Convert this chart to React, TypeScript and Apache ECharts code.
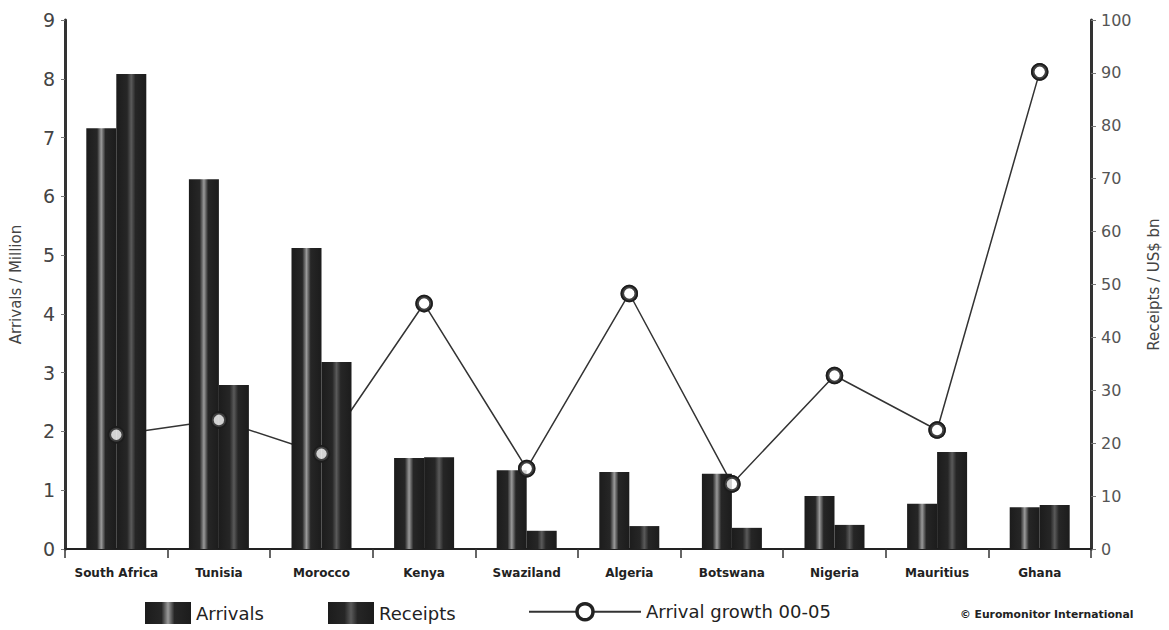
import React, { useEffect, useRef } from "react";
import * as echarts from "echarts";

const categories = ["South Africa", "Tunisia", "Morocco", "Kenya", "Swaziland", "Algeria", "Botswana", "Nigeria", "Mauritius", "Ghana"];
const arrivals = [7.16, 6.29, 5.12, 1.55, 1.34, 1.31, 1.28, 0.9, 0.77, 0.71];
const receipts = [8.08, 2.79, 3.18, 1.56, 0.31, 0.39, 0.36, 0.41, 1.65, 0.75];
const growth = [21.6, 24.4, 18, 46.4, 15.2, 48.3, 12.3, 32.8, 22.5, 90.2];

const FONT = "'DejaVu Sans', Verdana, sans-serif";

const barGrad = (mid: string) =>
  new echarts.graphic.LinearGradient(0, 0, 1, 0, [
    { offset: 0, color: "#1c1c1c" },
    { offset: 0.36, color: "#262626" },
    { offset: 0.5, color: mid },
    { offset: 0.64, color: "#262626" },
    { offset: 1, color: "#1c1c1c" },
  ]);

export default function App() {
  const ref = useRef<HTMLDivElement>(null);
  useEffect(() => {
    if (!ref.current) return;
    const chart = echarts.init(ref.current, null, { renderer: "svg" });
    chart.setOption({
      animation: false,
      backgroundColor: "#ffffff",
      textStyle: { fontFamily: FONT },
      grid: { left: 63, right: 71, top: 20, bottom: 81 },
      legend: [
        {
          data: [{ name: "Arrivals", icon: "rect" }],
          left: 140,
          top: 597,
          itemWidth: 46,
          itemHeight: 22,
          textStyle: { fontSize: 18, color: "#222", fontFamily: FONT },
        },
        {
          data: [{ name: "Receipts", icon: "rect" }],
          left: 323,
          top: 597,
          itemWidth: 46,
          itemHeight: 22,
          textStyle: { fontSize: 18, color: "#222", fontFamily: FONT },
        },
        {
          data: ["Arrival growth 00-05"],
          left: 523,
          top: 597,
          itemWidth: 112,
          itemHeight: 20,
          itemGap: 6,
          itemStyle: { color: "#ffffff", borderColor: "#222", borderWidth: 3.5 },
          textStyle: { fontSize: 18, color: "#222", fontFamily: FONT },
        },
      ],
      graphic: [
        {
          type: "text",
          left: 960,
          top: 609,
          style: {
            text: "© Euromonitor International",
            fontSize: 10.8,
            fontWeight: "bold",
            fill: "#222",
            fontFamily: FONT,
          },
        },
      ],
      xAxis: {
        type: "category",
        data: categories,
        boundaryGap: true,
        axisLine: { lineStyle: { color: "#222", width: 2 } },
        axisTick: { show: true, alignWithLabel: false, length: 9, lineStyle: { color: "#333", width: 1.5 } },
        axisLabel: { color: "#222", fontSize: 12, fontWeight: "bold", margin: 18, fontFamily: FONT, interval: 0 },
      },
      yAxis: [
        {
          type: "value",
          min: 0,
          max: 9,
          interval: 1,
          name: "Arrivals / Million",
          nameLocation: "middle",
          nameRotate: 90,
          nameGap: 42,
          nameTextStyle: { fontSize: 15, color: "#444", fontFamily: FONT },
          axisLine: { show: true, lineStyle: { color: "#333", width: 3 } },
          axisTick: { show: true, length: 4, lineStyle: { color: "#777" } },
          axisLabel: { fontSize: 19, color: "#444", margin: 10, fontFamily: FONT },
          splitLine: { show: false },
        },
        {
          type: "value",
          min: 0,
          max: 100,
          interval: 10,
          name: "Receipts / US$ bn",
          nameLocation: "middle",
          nameRotate: 90,
          nameGap: 55,
          nameTextStyle: { fontSize: 15, color: "#444", fontFamily: FONT },
          axisLine: { show: true, lineStyle: { color: "#333", width: 3 } },
          axisTick: { show: true, length: 5, lineStyle: { color: "#777" } },
          axisLabel: { fontSize: 16, color: "#555", margin: 10, fontFamily: FONT },
          splitLine: { show: false },
        },
      ],
      series: [
        {
          name: "Arrivals",
          type: "bar",
          data: arrivals,
          barWidth: 30,
          barGap: "0%",
          z: 2,
          itemStyle: { color: barGrad("#9a9a9a") },
        },
        {
          name: "Receipts",
          type: "bar",
          data: receipts,
          barWidth: 30,
          barGap: "0%",
          z: 2,
          itemStyle: { color: barGrad("#5a5a5a") },
        },
        {
          name: "Arrival growth 00-05",
          type: "line",
          yAxisIndex: 1,
          data: growth,
          z: 1,
          symbol: "circle",
          symbolSize: 14,
          lineStyle: { color: "#333", width: 1.5 },
          itemStyle: { color: "#ffffff", borderColor: "#222", borderWidth: 3.5 },
        },
        {
          name: "growth markers",
          type: "scatter",
          yAxisIndex: 1,
          data: growth,
          z: 3,
          symbol: "circle",
          symbolSize: 14,
          itemStyle: { color: "#ffffff", borderColor: "#1c1c1c", borderWidth: 3.5 },
        },
      ],
    });
    return () => chart.dispose();
  }, []);
  return <div ref={ref} style={{ width: 1169, height: 630, position: "absolute", left: 0, top: 0 }} />;
}
